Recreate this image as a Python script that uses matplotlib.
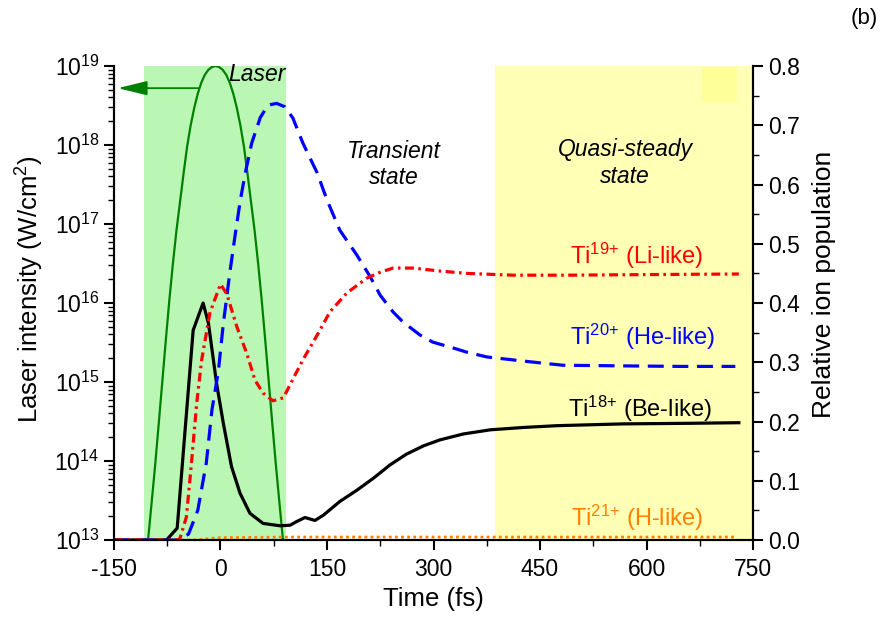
import numpy as np
import matplotlib
matplotlib.use("Agg")
import matplotlib.pyplot as plt
from matplotlib.patches import Rectangle
from matplotlib.ticker import MultipleLocator, LogLocator, NullFormatter

plt.rcParams['font.family'] = ['Liberation Sans', 'DejaVu Sans']
plt.rcParams['mathtext.fontset'] = 'custom'
plt.rcParams['mathtext.rm'] = 'Liberation Sans'
plt.rcParams['mathtext.it'] = 'Liberation Sans:italic'
plt.rcParams['axes.unicode_minus'] = False

# Laser pulse envelope (log10 of intensity in W/cm^2)
laser_t = [-102, -97, -92, -87, -82, -77, -72, -67, -62, -57, -52, -47, -42, -37, -32, -27, -22, -17, -12,
           -7, -2, 3, 8, 13, 18, 23, 28, 33, 38, 43, 48, 53, 58, 63, 68, 73, 78, 83, 88]
laser_log10 = [13.0, 13.47, 13.95, 14.47, 15.0, 15.53, 16.04, 16.5, 16.92, 17.28, 17.64, 17.98, 18.25, 18.47,
               18.65, 18.79, 18.89, 18.953, 18.988, 19.0, 18.988, 18.953, 18.89, 18.79, 18.65, 18.47, 18.25,
               17.98, 17.64, 17.28, 16.92, 16.5, 16.04, 15.53, 15.0, 14.47, 13.95, 13.47, 13.0]

# Ti18+ (Be-like)
be_t = [-150, -76, -61, -38.5, -24.5, -17, -5.5, 4, 15.5, 27.5, 41.5, 60, 84, 98, 107, 119, 133, 145,
        168, 192, 215, 239, 262, 286, 309, 342, 380, 427, 474, 567, 661, 730]
be_pop = [0, 0, 0.02, 0.354, 0.40, 0.366, 0.264, 0.197, 0.124, 0.079, 0.045, 0.028, 0.024, 0.025, 0.031, 0.038, 0.033, 0.042,
          0.065, 0.084, 0.104, 0.127, 0.145, 0.159, 0.169, 0.179, 0.186, 0.190, 0.193, 0.196, 0.197, 0.198]

# Ti19+ (Li-like)
li_t = [-150, -60, -57, -48, -40.5, -33.5, -26.5, -15, 0, 9, 23, 37, 48.5, 60, 74, 88.5, 116, 140, 154,
        178, 206, 225, 243, 271, 309, 347, 412, 488, 600, 730]
li_pop = [0, 0, 0.003, 0.039, 0.135, 0.231, 0.304, 0.383, 0.432, 0.415, 0.36, 0.315, 0.27, 0.248, 0.235, 0.24, 0.304, 0.354, 0.385,
          0.417, 0.442, 0.452, 0.459, 0.459, 0.454, 0.45, 0.447, 0.447, 0.448, 0.449]

# Ti20+ (He-like)
he_t = [-150, -60, -45, -32, -20, -12, -3, 4, 13, 21, 28, 35, 44, 56, 67, 79, 91, 102, 116, 136, 150,
        168, 192, 211, 225, 243, 257, 281, 299, 328, 347, 375, 412, 450, 482, 560, 650, 725]
he_pop = [0, 0, 0.01, 0.05, 0.13, 0.22, 0.285, 0.365, 0.45, 0.518, 0.574, 0.62, 0.67, 0.713, 0.734, 0.737, 0.731, 0.712, 0.67, 0.62, 0.574,
          0.523, 0.481, 0.444, 0.413, 0.385, 0.368, 0.346, 0.334, 0.324, 0.317, 0.309, 0.304, 0.299, 0.295, 0.294, 0.293, 0.293]

# Ti21+ (H-like)
h_t = [-150, -40, 0, 100, 300, 500, 727]
h_pop = [0, 0, 0.004, 0.005, 0.005, 0.005, 0.005]

fig = plt.figure(figsize=(8.87, 6.23), dpi=100)
ax = fig.add_axes([0.1285, 0.1332, 0.7205, 0.7608])
ax2 = ax.twinx()

# Shaded time windows
ax.axvspan(-108, 92, color='#bbf7b4', lw=0, zorder=0)
ax.axvspan(386, 750, color='#ffffb6', lw=0, zorder=0)
ax2.add_patch(Rectangle((678, 0.739), 49, 0.059, color='#ffff99', lw=0, zorder=0))

ax.plot(laser_t, 10 ** np.array(laser_log10), color='#008000', lw=1.6, zorder=2)
ax.annotate('', xy=(-144.5, 10 ** 18.72), xytext=(-30, 10 ** 18.72),
            arrowprops=dict(arrowstyle='-|>,head_length=0.9,head_width=0.22', color='#008000',
                            lw=1.3, mutation_scale=20, shrinkA=0, shrinkB=0))

ax.set_yscale('log')
ax.set_xlim(-150, 750)
ax.set_ylim(1e13, 1e19)
ax.yaxis.set_major_locator(LogLocator(base=10, numticks=10))
ax.yaxis.set_minor_locator(LogLocator(base=10, subs=np.arange(2, 10), numticks=10))
ax.yaxis.set_minor_formatter(NullFormatter())
ax.xaxis.set_major_locator(MultipleLocator(150))
ax.xaxis.set_minor_locator(MultipleLocator(75))

ax2.plot(h_t, h_pop, color='#ff8000', lw=2.0, linestyle=(0, (1, 1.2)))
ax2.plot(be_t, be_pop, color='black', lw=2.3)
ax2.plot(he_t, he_pop, color='#0000ff', lw=2.3, linestyle=(0, (5, 2.7)))
ax2.plot(li_t, li_pop, color='#ff0000', lw=2.3, linestyle=(0, (2.8, 1.4, 0.8, 1.4)))
ax2.set_ylim(0, 0.8)
ax2.yaxis.set_major_locator(MultipleLocator(0.1))
ax2.yaxis.set_minor_locator(MultipleLocator(0.05))
ax2.yaxis.set_major_formatter(lambda v, p: f'{v:.1f}')

for a in (ax, ax2):
    a.spines['top'].set_visible(False)
    for s in ('left', 'right', 'bottom'):
        a.spines[s].set_linewidth(1.5)
    a.tick_params(which='major', direction='out', length=7, width=1.5, labelsize=16.5)
    a.tick_params(which='minor', direction='out', length=4, width=1.0)
ax.tick_params(axis='x', which='major', pad=6)

ax.set_xlabel('Time (fs)', fontsize=18.5, labelpad=4)
ax.set_ylabel('Laser intensity (W/cm$^2$)', fontsize=18.5)
ax.yaxis.set_label_coords(-0.106, 0.53)
ax2.set_ylabel('Relative ion population', fontsize=19)
ax2.yaxis.set_label_coords(1.093, 0.54)

ax2.text(10.5, 0.785, 'Laser', fontsize=16.5, style='italic', va='center', ha='left')
ax2.text(244, 0.634, 'Transient\nstate', fontsize=16.5, style='italic', ha='center', va='center', linespacing=1.2)
ax2.text(570, 0.636, 'Quasi-steady\nstate', fontsize=16.5, style='italic', ha='center', va='center', linespacing=1.2)
ax2.text(586, 0.479, 'Ti$^{19{+}}$ (Li-like)', fontsize=17, color='#ff0000', ha='center', va='center')
ax2.text(594, 0.342, 'Ti$^{20{+}}$ (He-like)', fontsize=17, color='#0000ff', ha='center', va='center')
ax2.text(591, 0.222, 'Ti$^{18{+}}$ (Be-like)', fontsize=17, color='black', ha='center', va='center')
ax2.text(586, 0.037, 'Ti$^{21{+}}$ (H-like)', fontsize=17, color='#ff8000', ha='center', va='center')
fig.text(0.99, 0.97, '(b)', fontsize=16, ha='right', va='center')

fig.savefig('out.png', dpi=100)
